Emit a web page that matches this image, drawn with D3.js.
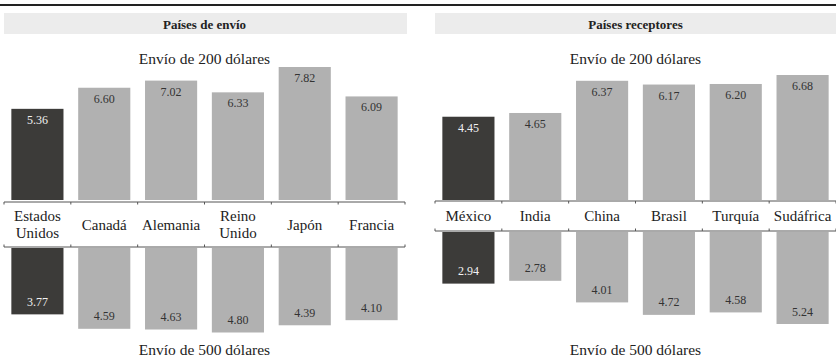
<!DOCTYPE html>
<html>
<head>
<meta charset="utf-8">
<script src="https://cdn.jsdelivr.net/npm/d3@7"></script>
<style>
  html, body { margin: 0; padding: 0; background: #fff; }
  svg { display: block; }
</style>
</head>
<body>
<svg id="chart" width="836" height="363"></svg>
<script>
// ---- Data ----
const sendCountries = ["Estados\nUnidos", "Canadá", "Alemania", "Reino\nUnido", "Japón", "Francia"];
const send200 = [5.36, 6.60, 7.02, 6.33, 7.82, 6.09];
const send500 = [3.77, 4.59, 4.63, 4.80, 4.39, 4.10];

const recvCountries = ["México", "India", "China", "Brasil", "Turquía", "Sudáfrica"];
const recv200 = [4.45, 4.65, 6.37, 6.17, 6.20, 6.68];
const recv500 = [2.94, 2.78, 4.01, 4.72, 4.58, 5.24];

const panelTitles = ["Países de envío", "Países receptores"];
const topTitle = "Envío de 200 dólares";
const bottomTitle = "Envío de 500 dólares";

// ---- Drawing ----
const FONT = "'Liberation Serif', 'DejaVu Serif', serif";
const svg = d3.select("#chart").attr("font-family", FONT);
const DARK = "#3c3b39", GREY = "#b1b1b1";

svg.append("line")
  .attr("x1", 0).attr("x2", 836).attr("y1", 5).attr("y2", 5)
  .attr("stroke", "#222").attr("stroke-width", 2);

const panels = [
  { x0: 4, x1: 405, title: panelTitles[0], cats: sendCountries, top: send200, bot: send500,
    bandTop: 202, bandBot: 247, barBase: 200, topMaxY: 67, botStart: 248, botMaxY: 332.5 },
  { x0: 435, x1: 836, title: panelTitles[1], cats: recvCountries, top: recv200, bot: recv500,
    bandTop: 201, bandBot: 231, barBase: 200, topMaxY: 75, botStart: 232, botMaxY: 324 }
];

function txt(g) {
  return g.append("text").attr("font-family", FONT).attr("text-anchor", "middle")
    .attr("dominant-baseline", "central");
}

panels.forEach(p => {
  const g = svg.append("g");
  const cx = (p.x0 + p.x1) / 2;

  // header
  g.append("rect").attr("x", p.x0).attr("y", 13).attr("width", p.x1 - p.x0 + (p.x1 === 836 ? 1 : 2)).attr("height", 21)
    .attr("fill", "#ececec");
  txt(g).attr("x", cx).attr("y", 24).attr("font-size", 13).attr("font-weight", "bold")
    .attr("fill", "#222").text(p.title);

  txt(g).attr("x", cx).attr("y", 58).attr("font-size", 15.5).attr("fill", "#222").text(topTitle);
  txt(g).attr("x", cx).attr("y", 349).attr("font-size", 15.5).attr("fill", "#222").text(bottomTitle);

  const x = d3.scaleBand().domain(p.cats).range([p.x0, p.x1]).paddingInner(0.22).paddingOuter(0.11);
  const step = x.step();
  const yTop = d3.scaleLinear().domain([0, d3.max(p.top)]).range([p.barBase, p.topMaxY]);
  const yBot = d3.scaleLinear().domain([0, d3.max(p.bot)]).range([p.botStart, p.botMaxY]);

  // top bars
  g.selectAll(".tb").data(p.top).join("rect")
    .attr("x", (d, i) => x(p.cats[i])).attr("width", x.bandwidth())
    .attr("y", d => yTop(d)).attr("height", d => yTop(0) - yTop(d))
    .attr("fill", (d, i) => i === 0 ? DARK : GREY);
  p.top.forEach((d, i) => {
    txt(g).attr("x", x(p.cats[i]) + x.bandwidth() / 2).attr("y", yTop(d) + 11)
      .attr("font-size", 12).attr("fill", i === 0 ? "#f2f2f2" : "#333").text(d.toFixed(2));
  });

  // bottom bars
  g.selectAll(".bb").data(p.bot).join("rect")
    .attr("x", (d, i) => x(p.cats[i])).attr("width", x.bandwidth())
    .attr("y", yBot(0)).attr("height", d => yBot(d) - yBot(0))
    .attr("fill", (d, i) => i === 0 ? DARK : GREY);
  p.bot.forEach((d, i) => {
    txt(g).attr("x", x(p.cats[i]) + x.bandwidth() / 2).attr("y", yBot(d) - 12.5)
      .attr("font-size", 12).attr("fill", i === 0 ? "#f2f2f2" : "#333").text(d.toFixed(2));
  });

  // label band lines with ticks
  const boundaries = p.cats.map(c => x(c) - step * 0.11).concat([p.x1]);
  [[p.bandTop, 1], [p.bandBot, -1]].forEach(([yy, dir]) => {
    g.append("line").attr("x1", p.x0).attr("x2", p.x1).attr("y1", yy).attr("y2", yy)
      .attr("stroke", "#555").attr("stroke-width", 1);
    g.selectAll(null).data(boundaries).join("line")
      .attr("x1", d => d).attr("x2", d => d).attr("y1", yy).attr("y2", yy + dir * 2.5)
      .attr("stroke", "#555").attr("stroke-width", 1);
  });

  // category labels
  const mid = (p.bandTop + p.bandBot) / 2;
  p.cats.forEach(c => {
    const lines = c.split("\n");
    const t = txt(g).attr("font-size", 15).attr("fill", "#222");
    lines.forEach((ln, j) => {
      t.append("tspan").attr("x", x(c) + x.bandwidth() / 2)
        .attr("y", mid + (j - (lines.length - 1) / 2) * 16.7).text(ln);
    });
  });
});
</script>
</body>
</html>
